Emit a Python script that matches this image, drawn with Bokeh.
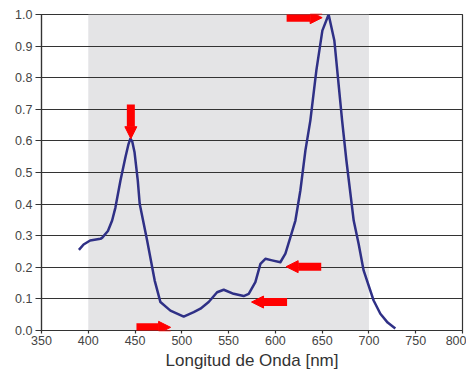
from bokeh.plotting import figure
from bokeh.models import (Range1d, BoxAnnotation, Arrow, NormalHead, FixedTicker,
                          PrintfTickFormatter)
from bokeh.embed import file_html
from bokeh.resources import INLINE

# Spectrum (wavelength nm, relative intensity)
wavelength = [390, 395, 402, 413, 415, 421, 425.5, 429, 434.4, 439.7, 443, 445, 447,
              449.4, 452.9, 455, 462.9, 471, 477.1, 487.8, 502, 512.7, 519.9, 528.7,
              537.7, 544.8, 555.4, 566.1, 571.5, 578.6, 584, 589.3, 596.5, 605.3, 610.7,
              616, 621.4, 626.7, 632.1, 637.4, 643.8, 650.2, 656.9, 663, 671.3, 675.9,
              683.7, 689, 694.3, 705, 712.2, 720, 728.2]
intensity = [0.255, 0.272, 0.285, 0.29, 0.294, 0.315, 0.348, 0.389, 0.475, 0.548, 0.590,
             0.607, 0.598, 0.565, 0.475, 0.40, 0.285, 0.158, 0.090, 0.063, 0.044, 0.058,
             0.069, 0.090, 0.121, 0.129, 0.116, 0.109, 0.116, 0.153, 0.211, 0.227, 0.222,
             0.216, 0.243, 0.295, 0.348, 0.443, 0.570, 0.665, 0.823, 0.949, 1.0, 0.918,
             0.665, 0.538, 0.348, 0.274, 0.190, 0.095, 0.053, 0.025, 0.006]

x_ticks = [350, 400, 450, 500, 550, 600, 650, 700, 750, 800]
y_ticks = [0.0, 0.1, 0.2, 0.3, 0.4, 0.5, 0.6, 0.7, 0.8, 0.9, 1.0]
band = (400, 700)

# Red arrows: (x_start, y_start, x_end, y_end)
arrows = [
    (445.5, 0.715, 445.5, 0.607),
    (451.5, 0.010, 488.0, 0.010),
    (612.5, 0.090, 574.5, 0.090),
    (649.0, 0.202, 611.5, 0.202),
    (612.0, 0.990, 650.0, 0.990),
]

p = figure(width=466, height=372, output_backend="svg", toolbar_location=None,
           x_range=Range1d(350, 800), y_range=Range1d(0, 1.0),
           min_border_left=41, min_border_right=4, min_border_top=14, min_border_bottom=42)

p.add_layout(BoxAnnotation(left=band[0], right=band[1], bottom=0, top=1.0,
                           fill_color="#e4e4e6", fill_alpha=1.0, line_alpha=0, level="image"))

p.line(wavelength, intensity, line_color="#2f3086", line_width=2.5, line_join="round")

for xs, ys, xe, ye in arrows:
    p.add_layout(Arrow(x_start=xs, y_start=ys, x_end=xe, y_end=ye,
                       line_color="#ff0000", line_width=8, line_cap="butt",
                       end=NormalHead(size=12, fill_color="#ff0000", line_color="#ff0000", line_width=1)))

p.xgrid.grid_line_color = None
p.ygrid.ticker = FixedTicker(ticks=y_ticks)
p.ygrid.grid_line_color = "#333333"
p.ygrid.grid_line_width = 1.2
p.ygrid.grid_line_alpha = 1.0

p.outline_line_color = "#333333"
p.outline_line_width = 1.2
p.background_fill_color = "white"
p.border_fill_color = "white"

p.xaxis.ticker = FixedTicker(ticks=x_ticks)
p.yaxis.ticker = FixedTicker(ticks=y_ticks)
p.yaxis.formatter = PrintfTickFormatter(format="%.1f")
p.xaxis.axis_label = "Longitud de Onda [nm]"

for ax in (p.xaxis, p.yaxis):
    ax.axis_line_color = "#333333"
    ax.axis_line_width = 1.2
    ax.major_tick_line_color = "#333333"
    ax.major_tick_line_width = 1.2
    ax.minor_tick_line_color = None
    ax.major_tick_in = 0
    ax.major_label_text_font = "Liberation Sans"
    ax.major_label_text_font_size = "12.5px"
    ax.major_label_text_color = "#444444"

p.yaxis.major_tick_out = 6
p.xaxis.major_tick_out = 3
p.yaxis.major_label_standoff = 3
p.xaxis.major_label_standoff = 2
p.xaxis.axis_label_text_font = "Liberation Sans"
p.xaxis.axis_label_text_font_style = "normal"
p.xaxis.axis_label_text_font_size = "17px"
p.xaxis.axis_label_text_color = "#333333"
p.xaxis.axis_label_standoff = 3

open("out.html", "w").write(file_html(p, INLINE))
